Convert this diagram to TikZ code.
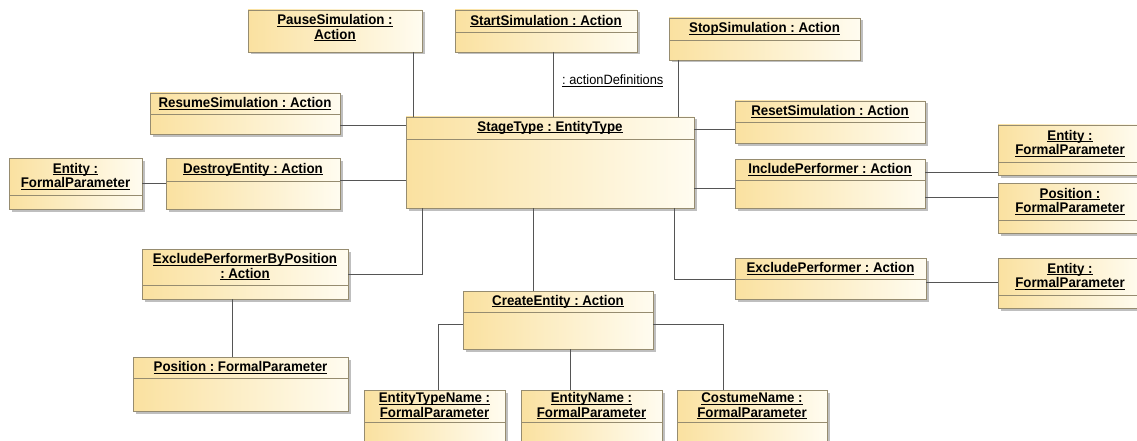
\documentclass[tikz,border=0pt]{standalone}
\usepackage{fontspec}
\setmainfont{Liberation Sans}[FakeStretch=0.95]
\usetikzlibrary{shadows}
\frenchspacing

\definecolor{boxfillL}{RGB}{250,225,160}
\definecolor{boxfillR}{RGB}{255,252,240}
\definecolor{boxedge}{RGB}{150,140,112}
\definecolor{linkgray}{RGB}{85,85,85}

% underlined text with a rule just under the baseline
\newcommand\ulx[1]{\setbox0\hbox{#1}\rlap{\rule[-1.8pt]{\wd0}{0.9pt}}\box0}

\tikzset{
  objbox/.style={draw=boxedge, line width=0.9pt, left color=boxfillL, right color=boxfillR,
    inner sep=0pt, outer sep=0pt, anchor=north west,
    drop shadow={shadow xshift=2.5pt, shadow yshift=-2.5pt, fill=black!50, opacity=0.5}},
  objtitle/.style={font=\fontsize{14}{14.5}\selectfont\bfseries, align=center, inner sep=0pt},
  divline/.style={draw=boxedge, line width=0.9pt},
  link/.style={draw=linkgray, line width=1pt},
  rolelabel/.style={font=\fontsize{13.5}{14}\selectfont, inner sep=0pt, anchor=west}
}

% [divider options]{name}{x1}{y1}{x2}{y2}{divider y}{title}
\newcommand\umlobj[8][]{%
  \node[objbox, minimum width={(#5)-(#3)}, minimum height={(#6)-(#4)}] (#2) at (#3,#4) {};
  \draw[divline,#1] (#2.west |- 0,#7) -- (#2.east |- 0,#7);
  \node[objtitle] (#2-title) at ({((#3)+(#5))/2},{((#4)+(#7))/2}) {#8};
}

\begin{document}
\begin{tikzpicture}[x=1pt,y=-1pt]
\useasboundingbox (0,0) rectangle (1137,441);
\clip (0,0) rectangle (1137,441);

% object boxes
\umlobj[draw=none]{pause}{248}{10}{422}{52}{46}{\ulx{PauseSimulation :}\\\ulx{Action}}
\umlobj{start}{455}{10}{637}{52}{32}{\ulx{StartSimulation : Action}}
\umlobj{stop}{669}{18}{860}{60}{40}{\ulx{StopSimulation : Action}}
\umlobj{resume}{150}{93}{340}{134}{114}{\ulx{ResumeSimulation : Action}}
\umlobj{reset}{735}{101}{925}{143}{122}{\ulx{ResetSimulation : Action}}
\umlobj{stage}{406}{117}{694}{208}{139}{\ulx{StageType : EntityType}}
\umlobj{entL}{9}{158}{142}{209}{195}{\ulx{Entity :}\\\ulx{FormalParameter}}
\umlobj{destroy}{166}{158}{340}{209}{181}{\ulx{DestroyEntity : Action}}
\umlobj{include}{735}{159}{925}{208}{180}{\ulx{IncludePerformer : Action}}
\umlobj{entRa}{998}{125}{1142}{175}{162}{\ulx{Entity :}\\\ulx{FormalParameter}}
\umlobj{posR}{998}{183}{1142}{233}{220}{\ulx{Position :}\\\ulx{FormalParameter}}
\umlobj{exclBP}{142}{249}{348}{299}{285}{\ulx{ExcludePerformerByPosition}\\\ulx{: Action}}
\umlobj{exclP}{735}{258}{926}{299}{279}{\ulx{ExcludePerformer : Action}}
\umlobj{entRb}{998}{258}{1142}{308}{295}{\ulx{Entity :}\\\ulx{FormalParameter}}
\umlobj{create}{463}{291}{653}{349}{312}{\ulx{CreateEntity : Action}}
\umlobj{posL}{133}{357}{348}{411}{378}{\ulx{Position : FormalParameter}}
\umlobj{etn}{364}{390}{505}{446}{422}{\ulx{EntityTypeName :}\\\ulx{FormalParameter}}
\umlobj{en}{521}{390}{662}{446}{422}{\ulx{EntityName :}\\\ulx{FormalParameter}}
\umlobj{cn}{677}{390}{827}{446}{422}{\ulx{CostumeName :}\\\ulx{FormalParameter}}

% links to the stage type
\draw[link] (pause.south -| 413,0) -- (stage.north -| 413,0);
\draw[link] (start.south -| 553,0) -- (stage.north -| 553,0);
\draw[link] (stop.south -| 678,0) -- (stage.north -| 678,0);
\draw[link] (resume.east |- 0,126) -- (stage.west |- 0,126);
\draw[link] (destroy.east |- 0,180) -- (stage.west |- 0,180);
\draw[link] (stage.east |- 0,130) -- (reset.west |- 0,130);
\draw[link] (stage.east |- 0,188) -- (include.west |- 0,188);
\draw[link] (stage.south -| 422,0) |- (exclBP.east |- 0,274);
\draw[link] (stage.south -| 533,0) -- (create.north -| 533,0);
\draw[link] (stage.south -| 674,0) |- (exclP.west |- 0,279);

% parameters of the actions
\draw[link] (entL.east |- 0,183) -- (destroy.west |- 0,183);
\draw[link] (include.east |- 0,172) -- (entRa.west |- 0,172);
\draw[link] (include.east |- 0,197) -- (posR.west |- 0,197);
\draw[link] (exclP.east |- 0,282) -- (entRb.west |- 0,282);
\draw[link] (exclBP.south -| 232,0) -- (posL.north -| 232,0);
\draw[link] (create.west |- 0,324) -| (etn.north -| 438,0);
\draw[link] (create.south -| 570,0) -- (en.north -| 570,0);
\draw[link] (create.east |- 0,324) -| (cn.north -| 723,0);

% role name on the start link
\node[rolelabel] (role) at (562,81) {\ulx{: actionDefinitions}};
\end{tikzpicture}
\end{document}
